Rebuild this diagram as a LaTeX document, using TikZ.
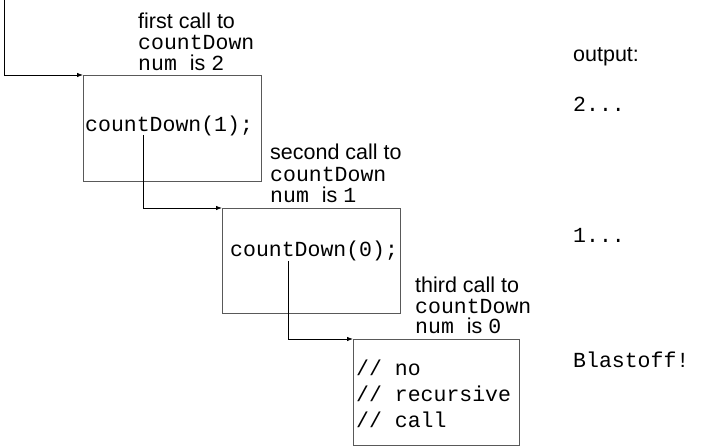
\documentclass[tikz,border=0pt]{standalone}
\usepackage{fontspec}
\setmainfont{Liberation Sans}
\setmonofont{Liberation Mono}
\usetikzlibrary{arrows.meta}
\begin{document}
\begin{tikzpicture}[x=1pt,y=-1pt,
  callbox/.style={draw=black!65,line width=1.2pt,inner sep=0pt,anchor=north west,rectangle},
  lbl/.style={anchor=base west,inner sep=0pt,font=\fontsize{21.5}{21.5}\selectfont},
  calllink/.style={draw=black,line width=0.8pt,-{Latex[length=6pt,width=4.5pt]}}]
\useasboundingbox (0,0) rectangle (702,446);
% boxes
\node[callbox,minimum width=178pt,minimum height=106pt] (b1) at (83,75) {};
\node[callbox,minimum width=178pt,minimum height=105pt] (b2) at (222,208) {};
\node[callbox,minimum width=166pt,minimum height=106pt] (b3) at (353,339) {};
% labels
\node[lbl] (l1a) at (138,29) {first call to};
\node[lbl] (l1b) at (138,50) {\ttfamily countDown};
\node[lbl] (l1c) at (138,71) {\ttfamily num \rmfamily is \ttfamily 2};
\node[lbl] (l2a) at (270,160) {second call to};
\node[lbl] (l2b) at (270,182) {\ttfamily countDown};
\node[lbl] (l2c) at (270,203) {\ttfamily num \rmfamily is \ttfamily 1};
\node[lbl] (l3a) at (415,293) {third call to};
\node[lbl] (l3b) at (415,314) {\ttfamily countDown};
\node[lbl] (l3c) at (415,334) {\ttfamily num \rmfamily is \ttfamily 0};
% box contents
\node[lbl] (c1) at (85,132) {\ttfamily countDown(1);};
\node[lbl] (c2) at (230,257) {\ttfamily countDown(0);};
\node[lbl] (c3a) at (356,376) {\ttfamily // no};
\node[lbl] (c3b) at (356,402) {\ttfamily // recursive};
\node[lbl] (c3c) at (356,428) {\ttfamily // call};
% output column
\node[lbl] (o0) at (573,62) {output:};
\node[lbl] (o1) at (573,112) {\ttfamily 2...};
\node[lbl] (o2) at (573,243) {\ttfamily 1...};
\node[lbl] (o3) at (573,368) {\ttfamily Blastoff!};
% connectors
\coordinate (s1) at (4,0);
\coordinate (s2) at (143,135);
\coordinate (s3) at (288,261);
\draw[calllink] (s1) |- (b1.north west);
\draw[calllink] (s2) |- (b2.north west);
\draw[calllink] (s3) |- (b3.north west);
\end{tikzpicture}
\end{document}
